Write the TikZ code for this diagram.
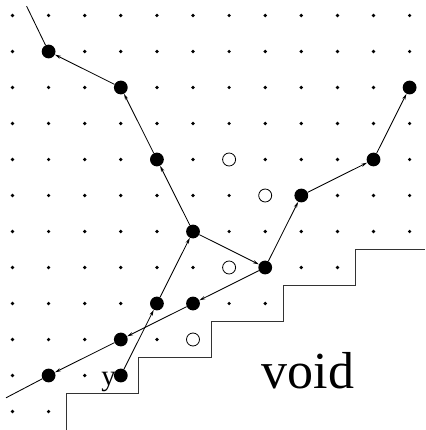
\documentclass[tikz,border=0pt]{standalone}
\usepackage{fontspec}
\setmainfont{Liberation Serif}
\usetikzlibrary{arrows.meta}
\tikzset{
  gridpt/.style={circle,fill=black,inner sep=0pt,minimum size=3.7pt},
  bigpt/.style={circle,fill=black,inner sep=0pt,minimum size=13.8pt},
  openpt/.style={circle,draw=black,line width=0.8pt,fill=white,inner sep=0pt,minimum size=13pt},
  conn/.style={line width=0.85pt,-{Stealth[length=6pt,width=3.2pt]}},
  plainconn/.style={line width=0.85pt},
  stair/.style={line width=1.1pt,draw=black!80}
}
\begin{document}
\begin{tikzpicture}
\useasboundingbox (0,0) rectangle (425pt,-430pt);
\begin{scope}[shift={(12.5pt,-15.5pt)},x=36.1pt,y=-36pt]
  % grid dots
  \foreach \r/\m in {0/11,1/11,2/11,3/11,4/11,5/11,6/11,7/9,8/7,9/5,10/3,11/1}{
    \foreach \c in {0,...,\m}{
      \node[gridpt] (g-\c-\r) at (\c,\r) {};
    }
  }
  % open circles
  \foreach \c/\r in {6/4,7/5,6/7,5/9}{
    \node[openpt] (o-\c-\r) at (\c,\r) {};
  }
  % big dots
  \foreach \c/\r in {1/1,3/2,4/4,5/6,7/7,8/5,10/4,11/2,4/8,5/8,3/9,1/10,3/10}{
    \node[bigpt] (b-\c-\r) at (\c,\r) {};
  }
  % free ends
  \coordinate (topend) at (0.39,-0.26);
  \coordinate (lowend) at (-0.18,10.62);
  % staircase
  \draw[stair] (1.5,11.5) -- (1.5,10.5) -- (3.5,10.5) -- (3.5,9.5) -- (5.5,9.5)
     -- (5.5,8.5) -- (7.5,8.5) -- (7.5,7.5) -- (9.5,7.5) -- (9.5,6.5) -- (11.43,6.5);
  % connectors
  \draw[plainconn] (b-1-1) -- (topend);
  \draw[conn] (b-3-2) -- (b-1-1);
  \draw[conn] (b-4-4) -- (b-3-2);
  \draw[conn] (b-5-6) -- (b-4-4);
  \draw[conn] (b-5-6) -- (b-7-7);
  \draw[conn] (b-7-7) -- (b-8-5);
  \draw[conn] (b-8-5) -- (b-10-4);
  \draw[conn] (b-10-4) -- (b-11-2);
  \draw[conn] (b-7-7) -- (b-5-8);
  \draw[conn] (b-5-8) -- (b-3-9);
  \draw[conn] (b-3-9) -- (b-1-10);
  \draw[plainconn] (b-1-10) -- (lowend);
  \draw[conn] (b-3-10) -- (b-4-8);
  \draw[conn] (b-4-8) -- (b-5-6);
\end{scope}
\node[anchor=base,inner sep=0pt,font=\fontsize{29pt}{31pt}\selectfont] (ylabel) at (108.5pt,-385pt) {y};
\node[anchor=base,inner sep=0pt,font=\fontsize{52pt}{56pt}\selectfont] (void) at (308pt,-388pt) {void};
\end{tikzpicture}
\end{document}
